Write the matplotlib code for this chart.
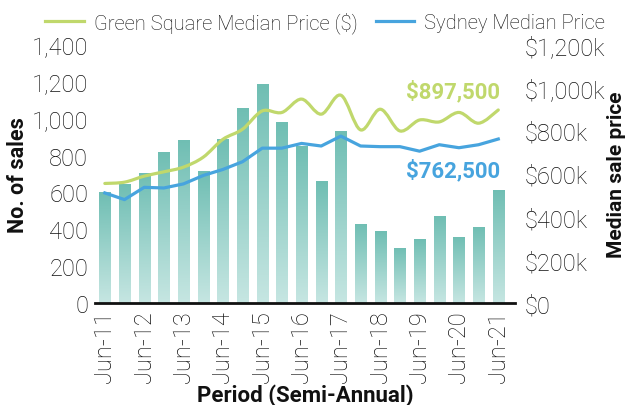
import numpy as np
import matplotlib
matplotlib.use("Agg")
import matplotlib.pyplot as plt
from matplotlib.path import Path
from matplotlib.patches import PathPatch
from matplotlib.colors import LinearSegmentedColormap
from matplotlib.ticker import FuncFormatter

plt.rcParams['font.family'] = ['Roboto', 'DejaVu Sans']

# datos (semestral, Jun-11 a Jun-21)
periodos = ['Jun-11', 'Dec-11', 'Jun-12', 'Dec-12', 'Jun-13', 'Dec-13', 'Jun-14',
            'Dec-14', 'Jun-15', 'Dec-15', 'Jun-16', 'Dec-16', 'Jun-17', 'Dec-17',
            'Jun-18', 'Dec-18', 'Jun-19', 'Dec-19', 'Jun-20', 'Dec-20', 'Jun-21']
ventas = [600, 645, 705, 820, 885, 715, 890, 1060, 1190, 980, 850,
          660, 935, 430, 390, 300, 345, 470, 360, 415, 615]
precio_gs = [556000, 562000, 590000, 610000, 632000, 678000, 761000, 808000,
             893000, 886000, 948000, 878000, 966000, 805000, 901000, 800000,
             851000, 842000, 886000, 836000, 897500]
precio_syd = [512000, 481000, 538000, 535000, 554000, 593000, 621000, 657000,
              720000, 720000, 742000, 730000, 776000, 730000, 727000, 727000,
              706000, 736000, 722000, 736000, 762500]

VERDE = '#c0d86c'
AZUL = '#47a4de'
TEXTO = '#111111'


def curva_suave(xs, ys, t=1/6):
    # curva tipo Catmull-Rom con segmentos Bezier
    n = len(xs)
    verts = [(xs[0], ys[0])]
    codes = [Path.MOVETO]
    for i in range(n - 1):
        a = max(i - 1, 0)
        b = min(i + 2, n - 1)
        c1 = (xs[i] + (xs[i + 1] - xs[a]) * t, ys[i] + (ys[i + 1] - ys[a]) * t)
        c2 = (xs[i + 1] - (xs[b] - xs[i]) * t, ys[i + 1] - (ys[b] - ys[i]) * t)
        verts += [c1, c2, (xs[i + 1], ys[i + 1])]
        codes += [Path.CURVE4] * 3
    return Path(verts, codes)


def fmt_precio(v, p):
    if v == 0:
        return '$0'
    return f'${int(v / 1000):,}k'


fig = plt.figure(figsize=(6.25, 4.06), dpi=100)
ax = fig.add_axes([0.152, 0.251, 0.672, 0.636])
ax2 = ax.twinx()

x = np.arange(len(periodos))
ancho = 0.56
cmap = LinearSegmentedColormap.from_list('teal', ['#c6e6e2', '#6fbeb3'])
grad = np.linspace(0, 1, 256).reshape(-1, 1)

barras = ax.bar(x, ventas, width=ancho, color='none', edgecolor='none')
for b in barras:
    x0 = b.get_x()
    im = ax.imshow(grad, extent=[x0, x0 + b.get_width(), 0, b.get_height()],
                   origin='lower', cmap=cmap, aspect='auto', zorder=2)
    im.set_clip_path(b)

ax.set_xlim(-0.5, 20.85)
ax.set_ylim(0, 1400)
ax.set_yticks(range(0, 1401, 200))
ax.yaxis.set_major_formatter(FuncFormatter(lambda v, p: f'{int(v):,}'))
ax.set_xticks(x[::2])
ax.set_xticklabels(periodos[::2], rotation=90)

# lineas de precio
ax2.add_patch(PathPatch(curva_suave(x, precio_gs), facecolor='none',
                        edgecolor=VERDE, lw=2.3, capstyle='round'))
ax2.plot(x, precio_syd, color=AZUL, lw=2.3, solid_joinstyle='round')
ax2.set_ylim(0, 1200000)
ax2.set_yticks(range(0, 1200001, 200000))
ax2.yaxis.set_major_formatter(FuncFormatter(fmt_precio))

ax2.text(20.1, 985000, f'${precio_gs[-1]:,}', color=VERDE, fontsize=16,
         fontweight='bold', ha='right', va='center')
ax2.text(20.1, 617000, f'${precio_syd[-1]:,}', color=AZUL, fontsize=16,
         fontweight='bold', ha='right', va='center')

for a in (ax, ax2):
    for s in a.spines.values():
        s.set_visible(False)
    a.tick_params(length=0, labelsize=17, colors=TEXTO)
    for lbl in a.get_xticklabels() + a.get_yticklabels():
        lbl.set_fontweight('light')
ax.spines['bottom'].set_visible(True)
ax.spines['bottom'].set_linewidth(2)
ax.spines['bottom'].set_color(TEXTO)
ax.tick_params(axis='y', pad=5)
ax.tick_params(axis='x', pad=5)
ax2.tick_params(axis='y', pad=7)

ax.set_ylabel('No. of sales', fontsize=15.5, fontweight='bold', labelpad=2, color=TEXTO)
ax2.set_ylabel('Median sale price', fontsize=15, fontweight='bold', labelpad=1, color=TEXTO)
ax.set_xlabel('Period (Semi-Annual)', fontsize=16, fontweight='bold', labelpad=1, color=TEXTO)

# leyenda
h1, = ax2.plot([], [], color=VERDE, lw=2.3)
h2, = ax2.plot([], [], color=AZUL, lw=2.3)
leg = fig.legend([h1, h2], ['Green Square Median Price ($)', 'Sydney Median Price'],
                 loc='upper center', bbox_to_anchor=(0.52, 1.015), ncol=2, frameon=False,
                 handlelength=1.9, handletextpad=0.5, columnspacing=0.9,
                 prop={'size': 14.5, 'weight': 'light'})
for t in leg.get_texts():
    t.set_color(TEXTO)

fig.savefig('out.png', dpi=100)
